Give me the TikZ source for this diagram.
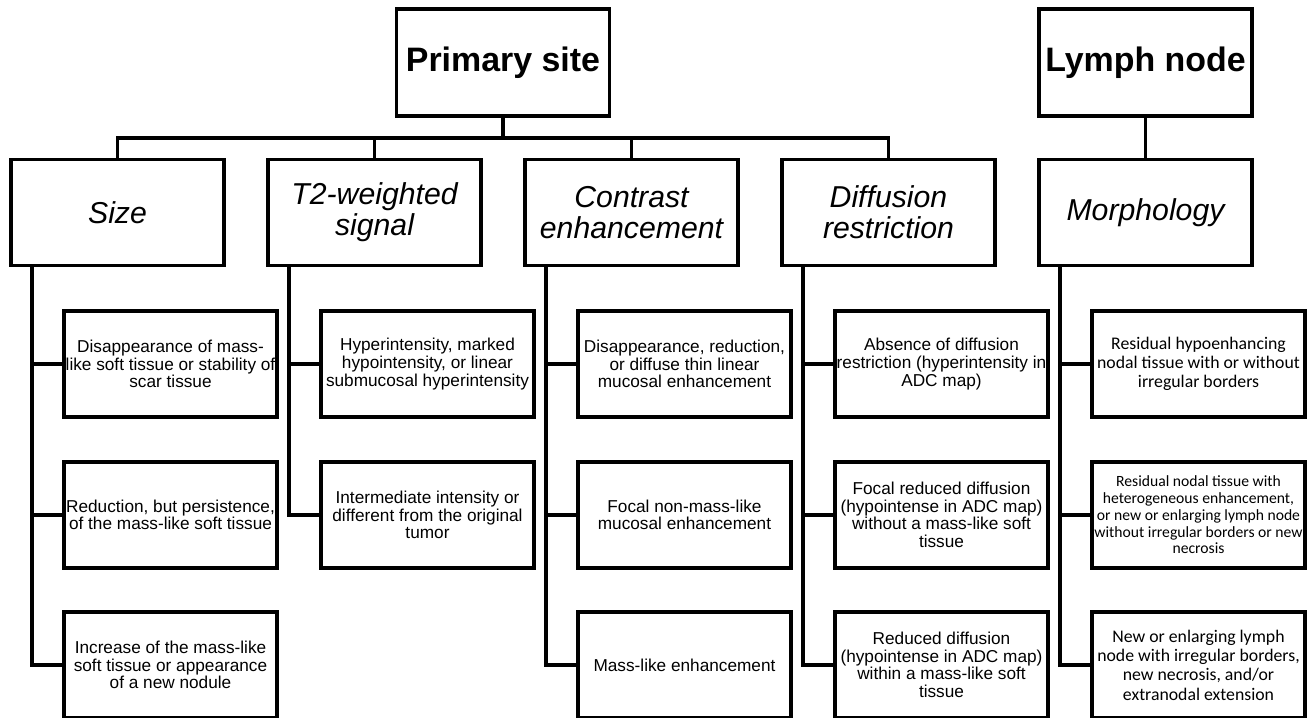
\documentclass[tikz,border=0pt]{standalone}
\usepackage{fontspec}
\setmainfont{Liberation Sans}
\newfontfamily\morphfont{Carlito}
\usepackage{tikz}
\usetikzlibrary{positioning,calc}

\begin{document}
\begin{tikzpicture}[
  line width=1.9pt,
  head/.style={draw, fill=white, align=center, inner sep=2pt,
               minimum width=4.26cm, minimum height=2.14cm,
               font=\fontsize{19.3}{22}\selectfont\bfseries},
  cat/.style={draw, fill=white, align=center, inner sep=2pt,
              minimum width=4.26cm, minimum height=2.12cm,
              font=\fontsize{17.2}{17.6}\selectfont\itshape},
  leaf/.style={draw, fill=white, align=center, inner sep=1pt,
               minimum width=4.26cm, minimum height=2.12cm,
               font=\fontsize{9.8}{10}\selectfont},
  lnleaf/.style={leaf, font=\morphfont\fontsize{10.1}{11}\selectfont},
  conn/.style={line width=1.9pt},
]
\useasboundingbox (0,0) rectangle (26.24,-14.36);

% top level
\node[head] (prim)  at (10.06,-1.25) {Primary site};
\node[head] (lymph) at (22.91,-1.25) {Lymph node};

% criteria
\node[cat] (size)      at (2.35,-4.25)  {Size};
\node[cat] (t2)        at (7.49,-4.25)  {T2-weighted\\signal};
\node[cat] (contrast)  at (12.63,-4.25) {Contrast\\enhancement};
\node[cat] (diffusion) at (17.77,-4.25) {Diffusion\\restriction};
\node[cat] (morph)     at (22.91,-4.25) {Morphology};

% size
\node[leaf] (s1) at (3.41,-7.28)  {Disappearance of mass-\\like soft tissue or stability of\\scar tissue};
\node[leaf] (s2) at (3.41,-10.30) {Reduction, but persistence,\\of the mass-like soft tissue};
\node[leaf] (s3) at (3.41,-13.30) {Increase of the mass-like\\soft tissue or appearance\\of a new nodule};

% t2
\node[leaf] (t1) at (8.55,-7.28)  {Hyperintensity, marked\\hypointensity, or linear\\submucosal hyperintensity};
\node[leaf] (tt) at (8.55,-10.30) {Intermediate intensity or\\different from the original\\tumor};

% contrast
\node[leaf] (c1) at (13.69,-7.28)  {Disappearance, reduction,\\or diffuse thin linear\\mucosal enhancement};
\node[leaf] (c2) at (13.69,-10.30) {Focal non-mass-like\\mucosal enhancement};
\node[leaf] (c3) at (13.69,-13.30) {Mass-like enhancement};

% diffusion
\node[leaf] (d1) at (18.83,-7.28)  {Absence of diffusion\\restriction (hyperintensity in\\ADC map)};
\node[leaf] (d2) at (18.83,-10.30) {Focal reduced diffusion\\(hypointense in ADC map)\\without a mass-like soft\\tissue};
\node[leaf] (d3) at (18.83,-13.30) {Reduced diffusion\\(hypointense in ADC map)\\within a mass-like soft\\tissue};

% lymph node
\node[lnleaf] (m1) at (23.97,-7.28)  {Residual hypoenhancing\\nodal tissue with or without\\irregular borders};
\node[lnleaf, font=\morphfont\fontsize{8.9}{9.5}\selectfont] (m2) at (23.97,-10.30)
  {Residual nodal tissue with\\heterogeneous enhancement,\\or new or enlarging lymph node\\without irregular borders or new\\necrosis};
\node[lnleaf] (m3) at (23.97,-13.30) {New or enlarging lymph\\node with irregular borders,\\new necrosis, and/or\\extranodal extension};

% connectors
\coordinate (bus) at (10.06,-2.76);
\draw[conn] (prim) -- (bus);
\foreach \c in {size,t2,contrast,diffusion}
  \draw[conn] (\c.north) |- (bus);
\draw[conn] (lymph) -- (morph);

\foreach \c/\l in {size/s1,size/s2,size/s3,t2/t1,t2/tt,contrast/c1,contrast/c2,contrast/c3,
                   diffusion/d1,diffusion/d2,diffusion/d3,morph/m1,morph/m2,morph/m3}
  \draw[conn] ([xshift=-1.71cm]\c.south) |- (\l.west);
\end{tikzpicture}
\end{document}
